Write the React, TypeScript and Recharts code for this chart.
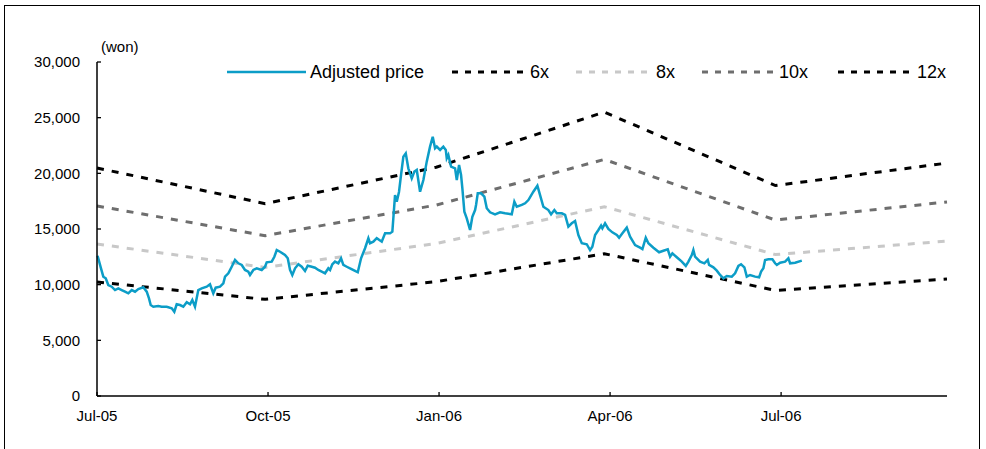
import React from 'react';
import { LineChart, Line, XAxis, YAxis, Legend, Label } from 'recharts';

// months since Jul-05
const priceT = [
  0.01, 0.07, 0.111, 0.153, 0.198, 0.258, 0.316, 0.374, 0.433, 0.491, 0.549, 0.609, 0.667, 0.725, 0.812,
  0.872, 0.912, 0.942, 0.988, 1.075, 1.135, 1.223, 1.311, 1.356, 1.398, 1.456, 1.514, 1.574, 1.632, 1.672,
  1.719, 1.777, 1.837, 1.925, 1.982, 2.04, 2.082, 2.158, 2.216, 2.246, 2.304, 2.363, 2.421, 2.479, 2.539,
  2.596, 2.654, 2.684, 2.742, 2.802, 2.889, 2.947, 2.977, 3.065, 3.111, 3.153, 3.211, 3.298, 3.346, 3.386,
  3.426, 3.474, 3.532, 3.591, 3.649, 3.696, 3.767, 3.825, 3.882, 3.942, 4.0, 4.058, 4.088, 4.128, 4.175,
  4.233, 4.281, 4.321, 4.381, 4.456, 4.526, 4.574, 4.632, 4.702, 4.76, 4.789, 4.847, 4.907, 4.995, 5.053,
  5.14, 5.181, 5.228, 5.258, 5.298, 5.333, 5.374, 5.416, 5.461, 5.521, 5.567, 5.609, 5.667, 5.725, 5.784,
  5.842, 5.889, 5.93, 5.96, 6.018, 6.075, 6.118, 6.135, 6.163, 6.211, 6.281, 6.311, 6.351, 6.386, 6.409,
  6.444, 6.486, 6.544, 6.584, 6.632, 6.649, 6.679, 6.737, 6.795, 6.837, 6.895, 6.982, 7.07, 7.158, 7.275,
  7.321, 7.363, 7.451, 7.509, 7.567, 7.654, 7.725, 7.772, 7.83, 7.918, 7.965, 8.023, 8.065, 8.153, 8.211,
  8.268, 8.328, 8.386, 8.444, 8.504, 8.591, 8.649, 8.689, 8.737, 8.795, 8.842, 8.865, 8.912, 8.97, 9.04,
  9.118, 9.158, 9.216, 9.293, 9.351, 9.439, 9.526, 9.567, 9.626, 9.672, 9.76, 9.86, 9.935, 10.012, 10.053,
  10.093, 10.17, 10.258, 10.328, 10.374, 10.433, 10.461, 10.491, 10.579, 10.654, 10.714, 10.737, 10.812, 10.872, 10.93,
  10.988, 11.047, 11.135, 11.193, 11.251, 11.298, 11.356, 11.398, 11.456, 11.544, 11.614, 11.649, 11.689, 11.719, 11.777,
  11.847, 11.895, 11.925, 11.982, 12.07, 12.128, 12.158, 12.246, 12.363,
];
const priceV = [
  12600, 11470, 10720, 10570, 9970, 9820, 9520, 9670, 9520, 9370, 9220, 9520, 9370, 9610, 9760,
  9370, 8770, 8170, 8020, 8080, 8020, 8020, 7880, 7570, 8240, 8170, 8020, 8420, 8240, 8620,
  8020, 9520, 9670, 9820, 10030, 9220, 9730, 9820, 10120, 10720, 11020, 11610, 12220, 11920, 11770,
  11320, 11170, 10870, 11320, 11470, 11320, 11610, 12010, 12070, 12510, 13110, 12960, 12660, 12370, 11320,
  10870, 11470, 11830, 11610, 11230, 11700, 11610, 11520, 11320, 11170, 11020, 11470, 11320, 11830, 12070,
  11920, 12370, 11770, 11610, 11410, 11230, 11110, 12370, 13270, 14170, 13720, 13860, 14170, 13860, 14610,
  14610, 14760, 18050, 17450, 18350, 19850, 21500, 21800, 20450, 19550, 20150, 20300, 18350, 19400, 21050,
  22400, 23290, 22250, 22400, 22100, 22400, 22100, 21350, 21650, 20600, 20450, 19400, 20750, 19850, 18650,
  16550, 15960, 14910, 16100, 16700, 17160, 18200, 18200, 17900, 16860, 16500, 16320, 16500, 16410, 16320,
  17450, 17000, 17160, 17310, 17600, 18350, 18890, 18050, 17000, 16700, 16320, 16700, 16410, 16410, 16260,
  15210, 15510, 15720, 14460, 13720, 13630, 13110, 13410, 14460, 14910, 15300, 15060, 15510, 15000, 14700,
  14460, 14220, 14610, 15120, 14310, 13560, 13320, 13200, 14220, 13720, 13320, 12910, 13050, 13180, 12510,
  12810, 12460, 12070, 11680, 12070, 12660, 13110, 12510, 12070, 11920, 12220, 11770, 11560, 11260, 10870,
  10570, 10780, 10720, 11020, 11680, 11830, 11560, 10720, 10870, 10720, 10660, 11170, 11470, 12220, 12280,
  12280, 11920, 11770, 11970, 12070, 12370, 11920, 11970, 12160,
];

const bandT = [0, 2.95, 5.95, 8.9, 11.9, 14.91];
const band6 = [10240, 8680, 10270, 12780, 9480, 10500];
const band8 = [13650, 11550, 13700, 17000, 12700, 13920];
const band10 = [17070, 14400, 17150, 21250, 15800, 17430];
const band12 = [20480, 17280, 20550, 25500, 18900, 20920];

const xTicks = [0, 3, 6, 9, 12];
const xTickLabels = ['Jul-05', 'Oct-05', 'Jan-06', 'Apr-06', 'Jul-06'];
const yTicks = [0, 5000, 10000, 15000, 20000, 25000, 30000];

const seriesNames = ['Adjusted price', '6x', '8x', '10x', '12x'];

const FONT = '"Liberation Sans", Arial, sans-serif';
const BLUE = '#0C9DC7';
const LIGHT = '#C8C8C8';
const DARK = '#6E6E6E';

type Row = { t: number; price?: number; b6?: number; b8?: number; b10?: number; b12?: number };

const rows: Row[] = [
  ...priceT.map((t, i) => ({ t, price: priceV[i] })),
  ...bandT.map((t, i) => ({ t, b6: band6[i], b8: band8[i], b10: band10[i], b12: band12[i] })),
].sort((a, b) => a.t - b.t);

const YTick = (props: any) => {
  const { x, y, payload } = props;
  return (
    <g>
      <line x1={x + 17} x2={x + 21} y1={y} y2={y} stroke="#000" strokeWidth={1.3} />
      <text x={x} y={y} dy="0.36em" textAnchor="end" fontSize={15} fill="#000" fontFamily={FONT}>
        {Number(payload.value).toLocaleString('en-US')}
      </text>
    </g>
  );
};

const XTick = (props: any) => {
  const { x, y, payload } = props;
  const idx = xTicks.indexOf(payload.value);
  return (
    <g>
      <line x1={x} x2={x} y1={y - 14} y2={y - 18} stroke="#000" strokeWidth={1.3} />
      <text x={x} y={y} dy="0.71em" textAnchor="middle" fontSize={15} fill="#000" fontFamily={FONT}>
        {idx >= 0 ? xTickLabels[idx] : ''}
      </text>
    </g>
  );
};

const legendStyles = [
  { color: BLUE, dash: undefined as string | undefined, w: 2.5, x1: 227, x2: 306, tx: 310 },
  { color: '#000', dash: '6 7', w: 3, x1: 452, x2: 528, tx: 530 },
  { color: LIGHT, dash: '6 7', w: 3, x1: 576, x2: 654, tx: 656 },
  { color: DARK, dash: '6 7', w: 3, x1: 702, x2: 777, tx: 779 },
  { color: '#000', dash: '6 7', w: 3, x1: 838, x2: 915, tx: 917 },
];

const LegendContent = () => (
  <svg width={986} height={30} style={{ position: 'absolute', left: 0, top: 57 }}>
    {seriesNames.map((name, i) => {
      const s = legendStyles[i];
      return (
        <g key={name}>
          <line x1={s.x1} x2={s.x2} y1={15} y2={15} stroke={s.color} strokeWidth={s.w} strokeDasharray={s.dash} />
          <text x={s.tx} y={21.3} fontSize={18} fill="#000" fontFamily={FONT}>
            {name}
          </text>
        </g>
      );
    })}
  </svg>
);

const WonLabel = (props: any) => {
  const vb = props.viewBox || {};
  return (
    <text x={(vb.x || 0) + (vb.width || 0) + 4} y={(vb.y || 0) - 10.5} fontSize={15} fill="#000" fontFamily={FONT}>
      (won)
    </text>
  );
};

export default function App() {
  return (
    <div style={{ position: 'absolute', left: 0, top: 0, width: 986, height: 449, overflow: 'hidden', background: '#fff' }}>
      <div
        style={{
          position: 'absolute',
          left: 4,
          top: 5,
          width: 976,
          height: 470,
          border: '1.5px solid #000',
          boxSizing: 'border-box',
        }}
      />
      <div style={{ position: 'absolute', left: 0, top: 0 }}>
        <LineChart width={986} height={449} data={rows} margin={{ top: 62, right: 39, bottom: 23, left: 10 }}>
          <XAxis
            dataKey="t"
            type="number"
            domain={[0, 14.91]}
            ticks={xTicks}
            interval={0}
            tick={<XTick />}
            tickSize={0}
            tickMargin={14}
            tickLine={false}
            axisLine={{ stroke: '#000', strokeWidth: 1.5 }}
            height={30}
          />
          <YAxis
            type="number"
            domain={[0, 30000]}
            ticks={yTicks}
            interval={0}
            tick={<YTick />}
            tickSize={0}
            tickMargin={17}
            tickLine={false}
            axisLine={{ stroke: '#000', strokeWidth: 1.5 }}
            width={87}
          >
            <Label content={<WonLabel />} position="top" />
          </YAxis>
          <Legend
            content={<LegendContent />}
            wrapperStyle={{ left: 0, top: 0, width: 0, height: 0, margin: 0, padding: 0 }}
          />
          <Line name={seriesNames[1]} dataKey="b6" stroke="#000" strokeWidth={3} strokeDasharray="7 8" dot={false} activeDot={false} connectNulls isAnimationActive={false} />
          <Line name={seriesNames[2]} dataKey="b8" stroke={LIGHT} strokeWidth={3} strokeDasharray="7 8" dot={false} activeDot={false} connectNulls isAnimationActive={false} />
          <Line name={seriesNames[3]} dataKey="b10" stroke={DARK} strokeWidth={3} strokeDasharray="7 8" dot={false} activeDot={false} connectNulls isAnimationActive={false} />
          <Line name={seriesNames[4]} dataKey="b12" stroke="#000" strokeWidth={3} strokeDasharray="7 8" dot={false} activeDot={false} connectNulls isAnimationActive={false} />
          <Line name={seriesNames[0]} dataKey="price" stroke={BLUE} strokeWidth={2.5} dot={false} activeDot={false} connectNulls isAnimationActive={false} />
        </LineChart>
      </div>
    </div>
  );
}
